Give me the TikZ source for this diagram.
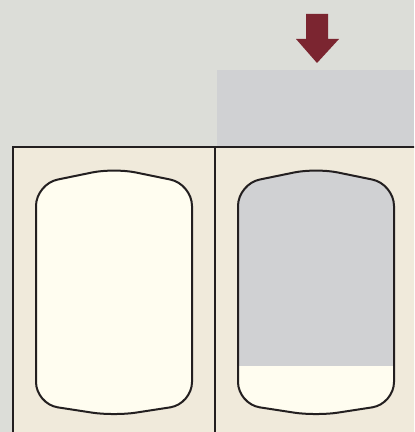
\documentclass[tikz,border=0pt]{standalone}
\usetikzlibrary{math}
\definecolor{mybg}{RGB}{220,221,216}
\definecolor{mylightgray}{RGB}{208,209,211}
\definecolor{mybeige}{RGB}{240,234,219}
\definecolor{mycream}{RGB}{255,253,240}
\definecolor{myline}{RGB}{35,31,32}
\definecolor{myred}{RGB}{123,37,48}
\newcommand{\tankpath}{(36,300) -- (36,184) -- (114,168) -- (192,184) -- (192,404) -- (114,416) -- (36,404) -- cycle}

\begin{document}
\begin{tikzpicture}[x=0.5pt,y=-0.5pt]
\tikzmath{
\W=414;
\H=432;
\ytop=147;
\xmid=215;
\level=366;
}
\clip (0,0) rectangle (\W,\H);
\fill[mybg] (0,0) rectangle (\W,\H);
\fill[mylightgray] (217,70) rectangle (\W,\ytop);

%%%%%%%%%%  arrow
\fill[myred] (306,14) -- (328,14) -- (328,39) -- (339,39) -- (317,63) -- (296,39) -- (306,39) -- cycle;

%%%%%%%%%%  panels
\fill[mybeige] (13,\ytop) rectangle (\W+10,\H+10);
\draw[line width=1pt, myline] (13,\H+10) -- (13,\ytop) -- (\W+10,\ytop);
\draw[line width=1pt, myline] (\xmid,\ytop) -- (\xmid,\H+10);

%%%%%%%%%%  left tank
\filldraw[fill=mycream, draw=myline, line width=1pt, rounded corners=11pt] \tankpath;

%%%%%%%%%%  right tank
\begin{scope}[shift={(202,0)}]
\fill[mycream, rounded corners=11pt] \tankpath;
\begin{scope}
\clip[rounded corners=11pt] \tankpath;
\fill[mylightgray] (20,150) rectangle (210,\level);
\end{scope}
\draw[myline, line width=1pt, rounded corners=11pt] \tankpath;
\end{scope}

\end{tikzpicture}
\end{document}
